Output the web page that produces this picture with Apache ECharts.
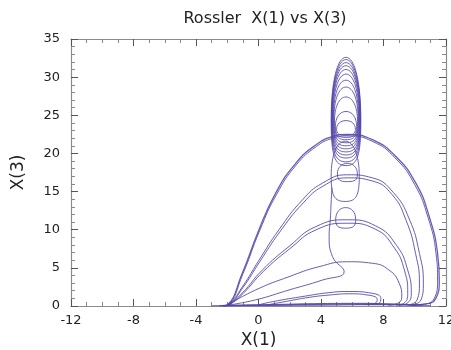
<!DOCTYPE html>
<html><head><meta charset="utf-8">
<script src="https://cdn.jsdelivr.net/npm/echarts@6.0.0/dist/echarts.min.js"></script>
<style>html,body{margin:0;padding:0;background:#fff}#c{width:451px;height:350px}</style>
</head><body><div id="c"></div>
<script>
// tick values
const xTicks = [-12, -8, -4, 0, 4, 8, 12];
const yTicks = [0, 5, 10, 15, 20, 25, 30, 35];

// trajectory segments: [x1, x3]
const arch1a = [[-2.3,0.03],[-2.0,0.15],[-1.04,4.3],[0.03,10.0],[1.1,14.8],[2.38,18.7],[3.66,21.1],[4.73,22.2],[5.69,22.5],[7.29,21.8],[8.79,19.6],[10.07,16.1],[10.93,11.7],[11.46,6.9],[11.57,3.4],[11.35,1.0],[10.5,0.2],[9.8,0.1]];
const arch1b = [[-2.25,0.03],[-1.95,0.15],[-1.0,4.2],[0.08,9.9],[1.15,14.6],[2.42,18.5],[3.7,20.9],[4.75,22.0],[5.69,22.3],[7.27,21.6],[8.75,19.4],[10.0,15.9],[10.85,11.6],[11.36,6.9],[11.46,3.4],[11.25,1.0],[10.4,0.2],[9.7,0.1]];
const arch2a = [[-2.2,0.03],[-1.95,0.15],[-1.04,2.5],[0.03,6.0],[1.31,10.0],[2.81,13.9],[4.09,16.1],[5.69,17.2],[7.29,16.8],[8.62,14.9],[9.65,11.4],[10.3,6.9],[10.55,3.0],[10.4,0.8],[9.8,0.15]];
const arch2b = [[-2.15,0.03],[-1.9,0.15],[-1.0,2.4],[0.08,5.8],[1.36,9.7],[2.86,13.5],[4.12,15.7],[5.69,16.8],[7.27,16.4],[8.55,14.6],[9.45,11.2],[10.05,6.9],[10.3,3.0],[10.15,0.8],[9.6,0.15]];
const arch3a = [[-2.1,0.03],[-1.9,0.15],[-1.04,1.7],[0.24,4.7],[1.95,7.8],[3.66,10.4],[5.69,11.3],[7.5,10.5],[8.85,7.9],[9.55,4.7],[9.78,1.66],[9.5,0.35],[9.0,0.1]];
const arch3b = [[-2.05,0.03],[-1.85,0.15],[-1.0,1.6],[0.3,4.5],[2.0,7.5],[3.7,10.0],[5.69,10.85],[7.45,10.1],[8.7,7.6],[9.35,4.6],[9.55,1.66],[9.3,0.35],[8.8,0.1]];
const arch4 = [[-2.0,0.1],[-0.19,2.1],[1.95,3.84],[3.87,5.15],[5.69,5.8],[7.29,5.6],[8.36,4.7],[9.0,3.0],[9.17,1.2],[8.9,0.35],[8.3,0.1]];
const arch5a = [[0.0,0.15],[0.88,0.56],[3.0,1.3],[4.5,1.75],[5.8,1.9],[7.29,1.66],[7.83,1.0],[7.7,0.35],[7.0,0.2]];
const arch5b = [[0.5,0.12],[1.5,0.5],[3.3,1.15],[4.6,1.45],[5.8,1.6],[7.1,1.4],[7.6,0.85],[7.45,0.35],[6.8,0.2]];
const wedge = [[-2.0,0.1],[-0.19,0.8],[1.95,2.1],[4.09,3.4],[5.48,4.5],[4.73,6.5],[4.52,9.1],[4.6,11.5],[4.65,13.6],[4.7,15.5]];
const bottom1 = [[-3.0,0.02],[-1.0,0.05],[2.0,0.1],[5.0,0.15],[8.0,0.18],[10.5,0.12]];
const bottom2 = [[-2.5,0.05],[0.0,0.12],[3.0,0.2],[6.0,0.28],[8.5,0.25],[10.0,0.1]];
const bottom3 = [[-2.0,0.08],[1.0,0.2],[4.0,0.32],[6.5,0.35],[9.0,0.2],[11.0,0.05]];

// z-spike loops: [x centre, bottom, top, half width]
const loops = [
  [5.58, 10.2, 12.9, 0.64],
  [5.55, 13.7, 21.6, 0.9],
  [5.69, 16.3, 18.7, 0.64],
  [5.60, 18.4, 32.6, 0.95],
  [5.60, 18.9, 32.3, 0.93],
  [5.60, 19.4, 31.9, 0.91],
  [5.60, 19.8, 31.5, 0.89],
  [5.60, 20.2, 31.0, 0.87],
  [5.60, 20.6, 30.4, 0.84],
  [5.60, 21.0, 29.6, 0.81],
  [5.60, 21.4, 28.7, 0.78],
  [5.60, 21.8, 27.4, 0.74],
  [5.60, 22.1, 25.5, 0.68],
  [5.60, 22.4, 24.3, 0.6]
];

const LINE = '#5448a8';
const FONT = 'DejaVu Sans, Liberation Sans, Arial, sans-serif';
const chart = echarts.init(document.getElementById('c'), null, {renderer: 'canvas'});

function lineSeries(d, w) {
  return {type: 'line', data: d, showSymbol: false, smooth: 0.5, smoothMonotone: 'none',
    lineStyle: {color: LINE, width: w || 1, opacity: 0.88}, silent: true, z: 3};
}

function renderLoop(params, api) {
  const cx = api.value(0), b = api.value(1), t = api.value(2), w = api.value(3);
  const mid = b + 0.42 * (t - b);
  const pB = api.coord([cx, b]), pT = api.coord([cx, t]);
  const pL = api.coord([cx - w, mid]), pR = api.coord([cx + w, mid]);
  const kb = 0.78, kt = 0.6;
  const st = {stroke: LINE, fill: 'none', lineWidth: 1, opacity: 0.85};
  const c = [];
  c.push({type: 'bezierCurve', shape: {x1: pB[0], y1: pB[1], x2: pR[0], y2: pR[1],
    cpx1: pB[0] + kb * (pR[0] - pB[0]), cpy1: pB[1], cpx2: pR[0], cpy2: pR[1] + kb * (pB[1] - pR[1])}, style: st});
  c.push({type: 'bezierCurve', shape: {x1: pR[0], y1: pR[1], x2: pT[0], y2: pT[1],
    cpx1: pR[0], cpy1: pR[1] - kt * (pR[1] - pT[1]), cpx2: pT[0] + kt * (pR[0] - pT[0]), cpy2: pT[1]}, style: st});
  c.push({type: 'bezierCurve', shape: {x1: pT[0], y1: pT[1], x2: pL[0], y2: pL[1],
    cpx1: pT[0] - kt * (pT[0] - pL[0]), cpy1: pT[1], cpx2: pL[0], cpy2: pL[1] - kt * (pL[1] - pT[1])}, style: st});
  c.push({type: 'bezierCurve', shape: {x1: pL[0], y1: pL[1], x2: pB[0], y2: pB[1],
    cpx1: pL[0], cpy1: pL[1] + kb * (pB[1] - pL[1]), cpx2: pB[0] - kb * (pB[0] - pL[0]), cpy2: pB[1]}, style: st});
  return {type: 'group', children: c};
}

const tickCommon = {
  axisLine: {show: true, onZero: false, lineStyle: {color: '#8c8c8c', width: 1.2}},
  axisTick: {show: true, inside: true, length: 7, lineStyle: {color: '#555', width: 1}},
  minorTick: {show: true, length: 4, lineStyle: {color: '#888', width: 1}},
  splitLine: {show: false}
};

const option = {
  animation: false,
  backgroundColor: '#fff',
  title: {text: 'Rossler  X(1) vs X(3)', left: 260, top: 6, textAlign: 'center',
    textStyle: {fontFamily: FONT, fontSize: 16, fontWeight: 'normal', color: '#222'}},
  grid: {left: 71, right: 5, top: 39, bottom: 44, show: false, containLabel: false, outerBoundsMode: 'none'},
  xAxis: [
    Object.assign({type: 'value', min: xTicks[0], max: xTicks[xTicks.length - 1], interval: 4, position: 'bottom',
      axisLabel: {margin: 8, fontSize: 13, color: '#222', fontFamily: FONT},
      name: 'X(1)', nameLocation: 'middle', nameGap: 26,
      nameTextStyle: {fontSize: 17, color: '#222', fontFamily: FONT}}, tickCommon,
      {minorTick: Object.assign({}, tickCommon.minorTick, {splitNumber: 4})}),
    Object.assign({type: 'value', min: xTicks[0], max: xTicks[xTicks.length - 1], interval: 4, position: 'top',
      axisLabel: {show: false}}, tickCommon,
      {minorTick: Object.assign({}, tickCommon.minorTick, {splitNumber: 4})})
  ],
  yAxis: [
    Object.assign({type: 'value', min: yTicks[0], max: yTicks[yTicks.length - 1], interval: 5, position: 'left',
      axisLabel: {margin: 11, fontSize: 13, color: '#222', fontFamily: FONT},
      name: 'X(3)', nameLocation: 'middle', nameGap: 44, nameRotate: 90,
      nameTextStyle: {fontSize: 17, color: '#222', fontFamily: FONT}}, tickCommon,
      {minorTick: Object.assign({}, tickCommon.minorTick, {splitNumber: 5})}),
    Object.assign({type: 'value', min: yTicks[0], max: yTicks[yTicks.length - 1], interval: 5, position: 'right',
      axisLabel: {show: false}}, tickCommon,
      {minorTick: Object.assign({}, tickCommon.minorTick, {splitNumber: 5})})
  ],
  series: [
    lineSeries(bottom1, 1.2), lineSeries(bottom2, 1.2), lineSeries(bottom3, 1),
    lineSeries(arch1a, 1.3), lineSeries(arch1b, 1),
    lineSeries(arch2a), lineSeries(arch2b),
    lineSeries(arch3a), lineSeries(arch3b),
    lineSeries(arch4), lineSeries(arch5a), lineSeries(arch5b),
    lineSeries(wedge),
    {type: 'custom', data: loops, renderItem: renderLoop, encode: {x: 0, y: [1, 2]}, silent: true, z: 3, clip: true}
  ]
};
chart.setOption(option);
</script>
</body></html>
